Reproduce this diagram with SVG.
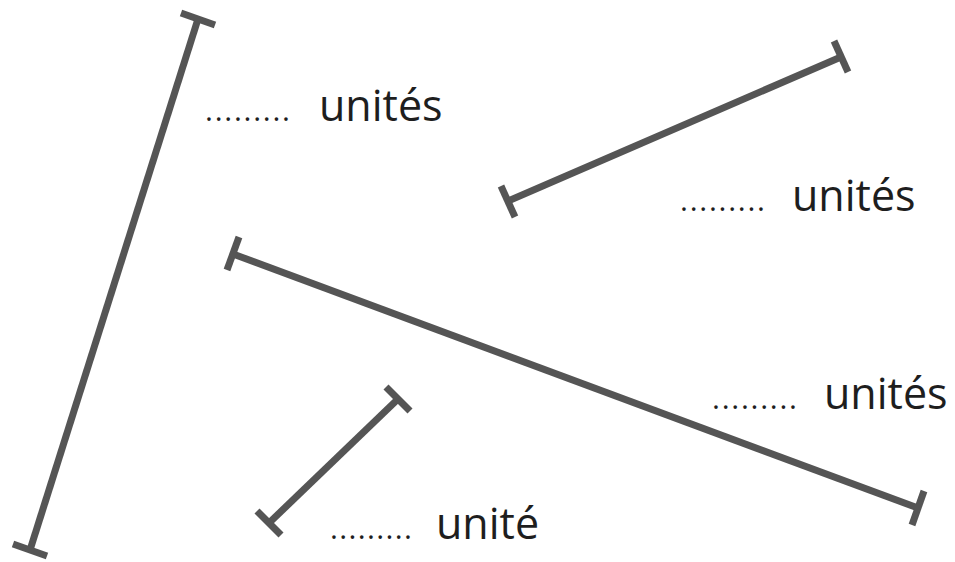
<svg xmlns="http://www.w3.org/2000/svg" width="955" height="562" viewBox="0 0 955 562">
<style>
.seg{stroke:#555;stroke-width:7;fill:none;stroke-linecap:butt}
.lbl{font-family:"Open Sans","DejaVu Sans",sans-serif;font-size:43px;fill:#1e1e1e}
.dots{font-family:"Open Sans","DejaVu Sans",sans-serif;font-size:30px;fill:#1e1e1e}
</style>
<rect width="955" height="562" fill="#fff"/>
<g id="connectors">
<g id="seg1">
<line class="seg" x1="198" y1="19" x2="30" y2="550"/>
<line class="seg" x1="181" y1="13" x2="215" y2="25"/>
<line class="seg" x1="13" y1="544" x2="47" y2="556"/>
</g>
<g id="seg2">
<line class="seg" x1="508" y1="201" x2="841" y2="57"/>
<line class="seg" x1="501" y1="186" x2="515" y2="217"/>
<line class="seg" x1="834" y1="41" x2="848" y2="72"/>
</g>
<g id="seg3">
<line class="seg" x1="233" y1="254" x2="918" y2="508"/>
<line class="seg" x1="239" y1="237" x2="227" y2="270"/>
<line class="seg" x1="924" y1="491" x2="912" y2="525"/>
</g>
<g id="seg4">
<line class="seg" x1="398" y1="399" x2="269" y2="523"/>
<line class="seg" x1="386" y1="387" x2="410" y2="411"/>
<line class="seg" x1="257" y1="511" x2="281" y2="535"/>
</g>
</g>
<g id="label1">
<text class="dots" x="205" y="121" textLength="85" lengthAdjust="spacing">.........</text>
<text class="lbl" x="319" y="121">unités</text>
</g>
<g id="label2">
<text class="dots" x="680" y="211" textLength="85" lengthAdjust="spacing">.........</text>
<text class="lbl" x="792" y="211">unités</text>
</g>
<g id="label3">
<text class="dots" x="712" y="409" textLength="85" lengthAdjust="spacing">.........</text>
<text class="lbl" x="824" y="409">unités</text>
</g>
<g id="label4">
<text class="dots" x="330" y="539" textLength="82" lengthAdjust="spacing">.........</text>
<text class="lbl" x="436" y="539">unité</text>
</g>
</svg>
